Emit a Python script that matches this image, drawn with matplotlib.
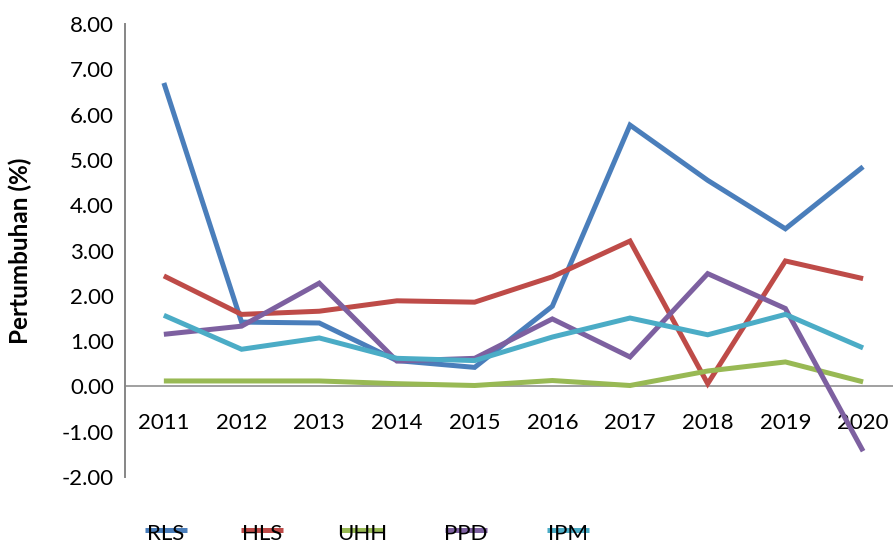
import numpy as np
import matplotlib.pyplot as plt
from matplotlib.lines import Line2D
from matplotlib.ticker import FuncFormatter, MultipleLocator

plt.rcParams['font.family'] = ['Lato', 'DejaVu Sans']
plt.rcParams['axes.unicode_minus'] = False

years = ['2011', '2012', '2013', '2014', '2015', '2016', '2017', '2018', '2019', '2020']
rls = [6.70, 1.42, 1.40, 0.57, 0.42, 1.77, 5.77, 4.55, 3.48, 4.85]
hls = [2.44, 1.59, 1.66, 1.89, 1.86, 2.42, 3.21, 0.06, 2.77, 2.38]
uhh = [0.12, 0.12, 0.12, 0.06, 0.02, 0.13, 0.02, 0.34, 0.54, 0.10]
ppd = [1.15, 1.33, 2.28, 0.56, 0.62, 1.49, 0.65, 2.49, 1.72, -1.43]
ipm = [1.57, 0.82, 1.07, 0.62, 0.57, 1.09, 1.51, 1.14, 1.59, 0.85]

names = ['RLS', 'HLS', 'UHH', 'PPD', 'IPM']
series = [rls, hls, uhh, ppd, ipm]
colors = ['#4A7EBB', '#BE4B48', '#98B954', '#7D60A0', '#4BACC6']

fig = plt.figure(figsize=(8.93, 5.45), dpi=100)
ax = fig.add_axes([0.14, 0.1248, 0.870, 0.831])

x = np.arange(len(years))
for vals, c in zip(series, colors):
    ax.plot(x, vals, color=c, lw=3.6, solid_joinstyle='miter',
            solid_capstyle='butt', zorder=3)

ax.set_xlim(-0.5, len(years) - 0.5)
ax.set_ylim(-2, 8)
ax.yaxis.set_major_locator(MultipleLocator(1))
ax.yaxis.set_major_formatter(FuncFormatter(lambda v, p: f'{v:.2f}'))
ax.set_xticks(x)
ax.set_xticklabels(years)

for s in ['top', 'right']:
    ax.spines[s].set_visible(False)
ax.spines['bottom'].set_position(('data', 0))
ax.spines['bottom'].set_color('#868686')
ax.spines['bottom'].set_linewidth(1.1)
ax.spines['left'].set_color('#868686')
ax.spines['left'].set_linewidth(1.4)

ax.tick_params(axis='x', length=0, pad=19, labelsize=16)
ax.tick_params(axis='y', length=0, pad=8, labelsize=16)
ax.set_ylabel('Pertumbuhan (%)', fontsize=17.5, fontweight='bold')
ax.yaxis.set_label_coords(-0.12, 0.5)

# legend drawn at the bottom, text sits over the line keys
leg_x = [166, 262, 362, 466, 568]
W, H = 893, 545
for name, c, cx in zip(names, colors, leg_x):
    fig.add_artist(Line2D([(cx - 21) / W, (cx + 21) / W], [1 - 530 / H, 1 - 530 / H],
                          color=c, lw=3.6, solid_capstyle='butt'))
    fig.text(cx / W, 1 - 540 / H, name, ha='center', va='baseline', fontsize=16)

fig.savefig('out.png', dpi=100)
